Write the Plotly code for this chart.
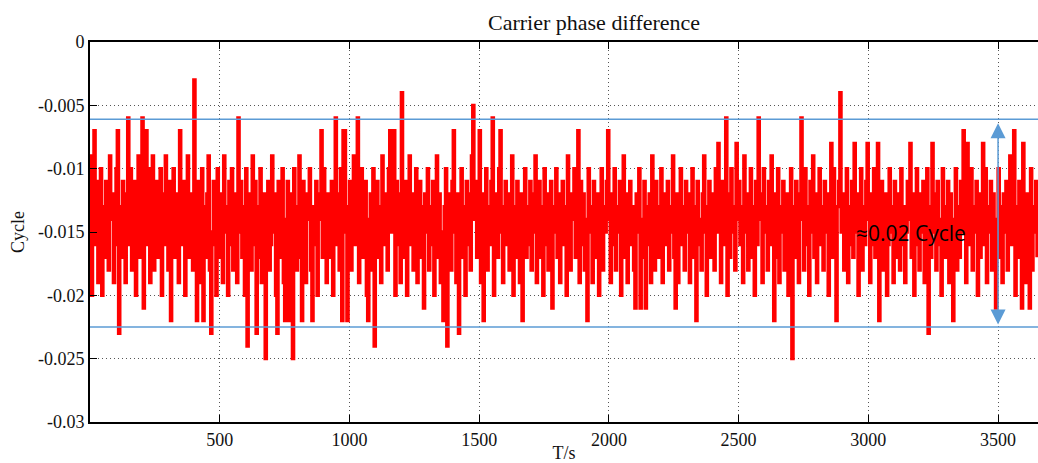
import plotly.graph_objects as go

# Carrier phase difference, in milli-cycles, sampled every 5 s
phase_mcyc = [
    -9,-20,-12,-7,-16,-11,-19,-14,-10,-20,-13,-17,-11,-15,-18,-9,-14,-12,-19,-16,
    -10,-7,-23,-13,-17,-11,-15,-19,-12,-6,-16,-10,-18,-14,-11,-20,-13,-9,-17,-15,
    -6,-21,-12,-7,-16,-10,-19,-13,-9,-18,-14,-11,-17,-15,-10,-20,-12,-16,-9,-14,
    -18,-11,-22,-13,-10,-17,-15,-12,-19,-7,-14,-16,-11,-20,-13,-9,-17,-12,-15,-18,
    -3,-16,-22,-11,-14,-19,-10,-22,-13,-17,-12,-9,-18,-23,-15,-11,-16,-20,-10,-14,
    -17,-12,-19,-9,-15,-13,-20,-11,-16,-10,-18,-14,-12,-19,-6,-15,-11,-17,-13,-20,
    -10,-24,-14,-12,-18,-9,-16,-11,-23,-13,-17,-10,-19,-15,-12,-25,-14,-11,-18,-16,
    -9,-15,-12,-20,-23,-11,-17,-13,-10,-19,-22,-14,-11,-22,-16,-12,-25,-10,-15,-18,
    -13,-9,-17,-22,-11,-15,-19,-12,-14,-10,-18,-22,-13,-16,-11,-20,-14,-12,-7,-17,
    -10,-15,-19,-12,-13,-17,-11,-20,-14,-6,-16,-12,-18,-10,-22,-7,-7,-15,-22,-13,
    -11,-18,-14,-9,-16,-12,-6,-19,-13,-10,-17,-15,-11,-20,-22,-14,-12,-18,-10,-24,
    -15,-11,-17,-13,-19,-9,-14,-16,-12,-18,-10,-7,-15,-13,-7,-20,-11,-16,-12,-19,
    -4,-14,-17,-11,-20,-13,-9,-16,-12,-18,-15,-10,-19,-14,-11,-17,-13,-21,-12,-15,
    -10,-18,-13,-16,-11,-20,-14,-9,-17,-12,-19,-15,-22,-13,-10,-24,-16,-12,-18,-11,
    -7,-15,-19,-12,-23,-14,-10,-17,-13,-20,-11,-16,-12,-18,-9,-5,-14,-11,-17,-13,
    -7,-19,-12,-22,-15,-10,-18,-13,-16,-11,-6,-20,-14,-12,-17,-10,-7,-15,-19,-13,
    -11,-16,-12,-18,-14,-9,-20,-13,-17,-11,-15,-19,-12,-22,-14,-10,-17,-13,-16,-11,
    -18,-12,-15,-9,-19,-14,-11,-17,-13,-20,-10,-16,-12,-18,-14,-11,-21,-13,-15,-10,
    -17,-12,-19,-14,-11,-16,-13,-20,-9,-15,-18,-12,-14,-10,-17,-13,-7,-19,-11,-16,
    -12,-18,-14,-22,-10,-15,-13,-19,-11,-17,-14,-12,-20,-16,-10,-18,-13,-15,-11,-7,
    -14,-19,-12,-16,-10,-18,-13,-15,-11,-20,-14,-9,-17,-12,-19,-15,-11,-16,-13,-18,
    -21,-12,-15,-10,-21,-14,-17,-11,-21,-13,-16,-12,-19,-9,-15,-18,-11,-14,-17,-13,
    -10,-19,-12,-16,-14,-11,-18,-13,-15,-9,-17,-21,-12,-19,-14,-10,-16,-13,-18,-11,
    -15,-12,-19,-14,-10,-17,-13,-22,-11,-16,-14,-18,-12,-9,-15,-20,-13,-11,-17,-14,
    -12,-18,-10,-15,-8,-13,-19,-11,-16,-14,-6,-20,-12,-17,-10,-15,-13,-18,-8,-14,
    -11,-16,-13,-19,-9,-15,-12,-18,-14,-10,-17,-13,-20,-11,-16,-6,-14,-12,-19,-10,
    -15,-13,-18,-11,-16,-9,-14,-22,-12,-17,-10,-19,-13,-15,-11,-18,-14,-12,-20,-16,
    -10,-25,-13,-17,-11,-15,-19,-12,-6,-14,-18,-10,-16,-13,-20,-11,-15,-9,-17,-12,
    -19,-14,-10,-16,-13,-18,-11,-15,-12,-20,-14,-8,-17,-10,-16,-22,-13,-11,-4,-15,
    -12,-18,-14,-10,-19,-13,-16,-11,-17,-8,-15,-12,-20,-14,-10,-18,-13,-16,-11,-8,
    -14,-19,-12,-16,-10,-17,-13,-8,-22,-15,-11,-18,-14,-12,-20,-16,-10,-15,-13,-19,
    -11,-17,-14,-12,-18,-10,-16,-13,-19,-15,-11,-14,-8,-17,-12,-20,-13,-10,-16,-18,
    -12,-15,-11,-19,-14,-10,-23,-13,-17,-8,-15,-12,-18,-11,-16,-14,-20,-10,-13,-17,
    -15,-11,-19,-12,-16,-22,-14,-10,-18,-13,-17,-11,-15,-7,-12,-19,-8,-14,-16,-10,
    -18,-13,-15,-11,-20,-12,-17,-14,-8,-16,-10,-19,-13,-15,-11,-18,-12,-14,-21,-16,
    -10,-17,-13,-19,-12,-15,-11,-18,-14,-9,-16,-12,-7,-20,-13,-17,-11,-15,-21,-8,
    -14,-19,-12,-16,-21,-10,-18,-13,-15,-11,-17,
]
sample_step_s = 5
time_s = [i * sample_step_s for i in range(len(phase_mcyc))]
phase_cycle = [v / 1000 for v in phase_mcyc]

upper_bound = -0.0061
lower_bound = -0.0225
arrow_x = 3500
arrow_top = -0.0063
arrow_bottom = -0.0223
span_label = "≈0.02 Cycle"
span_label_x = 3165
span_label_y = -0.0151

x_ticks = [500, 1000, 1500, 2000, 2500, 3000, 3500]
y_ticks = [0, -0.005, -0.01, -0.015, -0.02, -0.025, -0.03]
y_tick_text = ["0", "-0.005", "-0.01", "-0.015", "-0.02", "-0.025", "-0.03"]

blue = "#5B9BD5"
serif = "Liberation Serif, Times New Roman, serif"

fig = go.Figure()
fig.add_trace(go.Scatter(x=time_s, y=phase_cycle, mode="lines",
                         line=dict(color="#FF0000", width=3.3, shape="hv"),
                         showlegend=False, hoverinfo="skip"))

for yb in (upper_bound, lower_bound):
    fig.add_shape(type="line", xref="paper", x0=0, x1=1, yref="y", y0=yb, y1=yb,
                  line=dict(color=blue, width=1.5))

fig.add_annotation(x=arrow_x, y=arrow_bottom, ax=arrow_x, ay=arrow_top,
                   xref="x", yref="y", axref="x", ayref="y",
                   showarrow=True, arrowhead=2, startarrowhead=2, arrowside="end+start",
                   arrowsize=2, startarrowsize=2,
                   arrowwidth=1.5, arrowcolor=blue, text="")
fig.add_annotation(x=span_label_x, y=span_label_y, xref="x", yref="y", text=span_label,
                   showarrow=False, font=dict(family="Open Sans, Liberation Sans, sans-serif",
                                              size=21, color="black"))

fig.add_annotation(xref="paper", yref="paper", x=(594 - 90) / 948, y=1.0, yshift=20,
                   yanchor="middle", text="Carrier phase difference", showarrow=False,
                   font=dict(family=serif, size=22, color="#111"))

grid_dash = "1px,3px"
fig.update_layout(
    width=1038, height=463,
    margin=dict(l=90, r=0, t=42, b=41),
    paper_bgcolor="white", plot_bgcolor="white",
    font=dict(family=serif, size=18, color="#111"),
    xaxis=dict(range=[0, 3654], tickvals=x_ticks, ticks="inside", ticklen=7,
               tickcolor="black", showline=True, linecolor="black", linewidth=2,
               mirror="allticks", showgrid=True, gridcolor="#555", griddash=grid_dash,
               gridwidth=1, zeroline=False,
               title=dict(text="T/s", standoff=0, font=dict(family=serif, size=18))),
    yaxis=dict(range=[-0.03, 0], tickvals=y_ticks, ticktext=y_tick_text,
               ticks="inside", ticklen=7, tickcolor="black", showline=True,
               linecolor="black", linewidth=2, mirror=False, showgrid=True,
               gridcolor="#555", griddash=grid_dash, gridwidth=1, zeroline=False,
               title=dict(text="Cycle", standoff=9, font=dict(family=serif, size=18))),
)

fig.write_html("out.html")
